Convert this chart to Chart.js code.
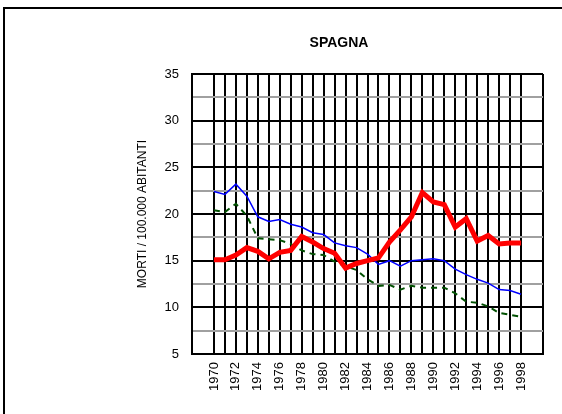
<!DOCTYPE html>
<html>
<head>
<meta charset="utf-8">
<script src="https://cdn.jsdelivr.net/npm/chart.js@4"></script>
<style>
  html, body { margin: 0; padding: 0; background: #fff; }
  #wrap { position: relative; width: 562px; height: 414px; }
  #frame { position: absolute; left: 3px; top: 7px; width: 562px; height: 410px;
           border-top: 2px solid #000; border-left: 2px solid #000; box-sizing: border-box; }
  #myChart { position: absolute; left: 0; top: 0; }
</style>
</head>
<body>
<div id="wrap">
  <div id="frame"></div>
  <canvas id="myChart" width="562" height="414"></canvas>
</div>
<script>
var anni = [1970, 1971, 1972, 1973, 1974, 1975, 1976, 1977, 1978, 1979,
            1980, 1981, 1982, 1983, 1984, 1985, 1986, 1987, 1988, 1989,
            1990, 1991, 1992, 1993, 1994, 1995, 1996, 1997, 1998]
var rossa = [15.1, 15.1, 15.6, 16.4, 16.0, 15.2, 15.9, 16.1, 17.6, 17.0,
             16.3, 15.8, 14.2, 14.7, 15.0, 15.3, 17.0, 18.3, 19.7, 22.3,
             21.3, 21.0, 18.6, 19.5, 17.1, 17.7, 16.8, 16.9, 16.9]
var blu = [22.4, 22.1, 23.2, 21.9, 19.7, 19.2, 19.4, 18.9, 18.6, 18.0,
           17.8, 16.9, 16.6, 16.4, 15.7, 14.6, 15.0, 14.4, 15.0, 15.1,
           15.2, 15.0, 14.1, 13.5, 13.0, 12.6, 11.9, 11.8, 11.4]
var verde = [20.4, 20.2, 21.1, 19.8, 17.4, 17.3, 17.2, 16.8, 16.1, 15.7,
             15.6, 14.9, 14.4, 14.0, 13.0, 12.3, 12.4, 11.9, 12.3, 12.1,
             12.1, 12.1, 11.5, 10.6, 10.5, 10.1, 9.4, 9.2, 9.0]
var titolo = 'SPAGNA'
var titoloAsse = 'MORTI / 100.000 ABITANTI'

function punti(valori){
    return anni.map((a, i) => ({x: a, y: valori[i]}))
}

const titlePlugin = {
    id: 'titoloSpagna',
    afterDraw(chart){
        const c = chart.ctx
        c.save()
        c.font = 'bold 14px "Liberation Sans", Arial, sans-serif'
        c.fillStyle = '#000'
        c.textAlign = 'center'
        c.textBaseline = 'middle'
        c.fillText(titolo, 339, 43)
        c.restore()
    }
}

const ctx = document.getElementById('myChart').getContext('2d')
const myChart = new Chart(ctx, {
    type: 'line',
    data: {
        datasets: [{
            data: punti(rossa),
            borderColor: '#ff0000',
            borderWidth: 5,
            pointRadius: 0,
            tension: 0
        }, {
            data: punti(blu),
            borderColor: '#0000ff',
            borderWidth: 1.5,
            pointRadius: 0,
            tension: 0
        }, {
            data: punti(verde),
            borderColor: '#005000',
            borderWidth: 2,
            borderDash: [6, 5],
            pointRadius: 0,
            tension: 0
        }]
    },
    options: {
        responsive: false,
        animation: false,
        layout: { padding: { left: 131, right: 19, top: 74, bottom: 0 } },
        plugins: { legend: { display: false }, tooltip: { enabled: false } },
        scales: {
            x: {
                type: 'linear',
                min: 1968,
                max: 2000,
                afterFit: (s) => { s.height = 60; s.paddingLeft = 0; s.paddingRight = 0 },
                border: { color: '#000', width: 2 },
                grid: {
                    drawTicks: false,
                    lineWidth: 2,
                    color: (c) => (c.tick && (c.tick.value === 1969 || c.tick.value === 1999)) ? 'rgba(0,0,0,0)' : '#000'
                },
                ticks: {
                    stepSize: 1,
                    autoSkip: false,
                    maxRotation: 90,
                    minRotation: 90,
                    padding: 8,
                    color: '#000',
                    font: { family: '"Liberation Sans", Arial, sans-serif', size: 13 },
                    callback: (v) => (v >= 1970 && v <= 1998 && v % 2 === 0) ? String(v) : ''
                }
            },
            y: {
                min: 5,
                max: 35,
                afterFit: (s) => { s.width = 61 },
                border: { color: '#000', width: 2 },
                grid: {
                    drawTicks: false,
                    lineWidth: 2,
                    color: (c) => (c.tick && c.tick.value % 5 === 0) ? '#000' : '#a0a0a0'
                },
                ticks: {
                    stepSize: 2.5,
                    padding: 13,
                    color: '#000',
                    font: { family: '"Liberation Sans", Arial, sans-serif', size: 13 },
                    callback: (v) => (v % 5 === 0) ? String(v) : ''
                },
                title: {
                    display: true,
                    text: titoloAsse,
                    color: '#000',
                    font: { family: '"Liberation Sans", Arial, sans-serif', size: 12 }
                }
            }
        }
    },
    plugins: [titlePlugin]
})
</script>
</body>
</html>
